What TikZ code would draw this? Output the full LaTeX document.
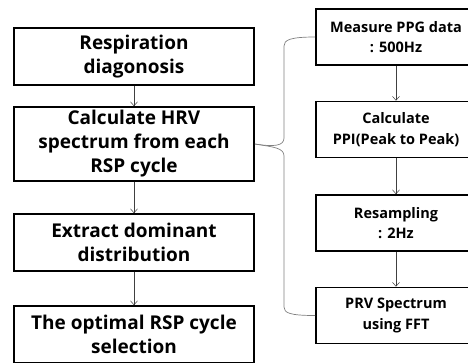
\documentclass[tikz,border=0pt]{standalone}
\usepackage{fontspec}
\setmainfont{Open Sans}
\usepackage{tikz}
\usetikzlibrary{arrows.meta,positioning}

\begin{document}
\begin{tikzpicture}[x=1pt, y=-1pt,
    stepbox/.style={draw, line width=1.6pt, align=center, inner sep=0pt,
      font=\fontsize{19}{24}\selectfont\bfseries},
    leftbox/.style={stepbox, minimum width=240pt, minimum height=57pt},
    rightbox/.style={stepbox, minimum width=160pt, minimum height=56pt,
      font=\fontsize{14.5}{20.5}\selectfont\bfseries},
    flow/.style={->, >={Straight Barb[length=4pt, width=7pt]}, line width=0.5pt, black!75},
    brace/.style={line width=0.7pt, black!50}]
		\clip (0,0) rectangle (468,362);
		% left column
		\node[leftbox] (b1) at (134,56.5) {Respiration\\diagonosis};
		\node[leftbox, minimum height=74pt] (b2) at (134,144) {Calculate HRV\\spectrum from each\\RSP cycle};
		\node[leftbox] (b3) at (134,242.5) {Extract dominant\\distribution};
		\node[leftbox] (b4) at (134,334.5) {The optimal RSP cycle\\selection};
		% right column
		\node[rightbox] (r1) at (396,37) {Measure PPG data\\: 500Hz};
		\node[rightbox] (r2) at (396,129.5) {Calculate\\PPI(Peak to Peak)};
		\node[rightbox] (r3) at (396,223) {Resampling\\: 2Hz};
		\node[rightbox] (r4) at (396,315.5) {PRV Spectrum\\using FFT};
		\draw[flow] (b1) -- (b2);
		\draw[flow] (b2) -- (b3);
		\draw[flow] (b3) -- (b4);
		\draw[flow] (r1) -- (r2);
		\draw[flow] (r2) -- (r3);
		\draw[flow] (r3) -- (r4);
		% brace
		\draw[brace] (b2.east) .. controls (274,147) and (284,146) .. (284,138) -- (284,46) .. controls (284,40) and (290,37) .. (r1.west);
		\draw[brace] (b2.east) .. controls (274,147) and (284,148) .. (284,156) -- (284,307) .. controls (284,313) and (290,315.5) .. (r4.west);
	\end{tikzpicture}
\end{document}
